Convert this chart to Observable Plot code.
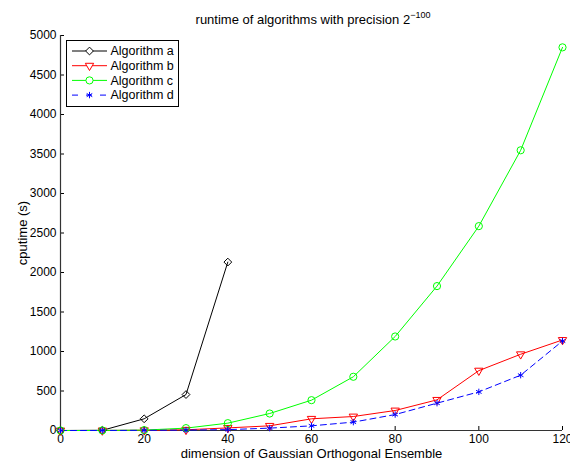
<!DOCTYPE html>
<html>
<head>
<meta charset="utf-8">
<script src="https://cdn.jsdelivr.net/npm/d3@7"></script>
<script src="https://cdn.jsdelivr.net/npm/@observablehq/plot@0.6"></script>
<style>
  body { margin: 0; background: #fff; font-family: "Liberation Sans", Arial, Helvetica, sans-serif; }
  #wrap { position: relative; width: 570px; height: 464px; overflow: hidden; }
  #title { position: absolute; top: 12px; left: 313px; transform: translateX(-50%); white-space: nowrap; font-size: 13px; color: #000; }
  #title sup { font-size: 9px; vertical-align: 6px; line-height: 0; }
  #legend { position: absolute; left: 0; top: 0; pointer-events: none; }
</style>
</head>
<body>
<div id="wrap">
  <div id="chart"></div>
  <div id="title"></div>
  <svg id="legend" width="570" height="464"></svg>
</div>
<script>
// ---- data ----
const titleText = "runtime of algorithms with precision 2";
const titleExp = "\u2212100";
const xLabel = "dimension of Gaussian Orthogonal Ensemble";
const yLabel = "cputime (s)";

const dimsA = [0, 10, 20, 30, 40];
const algA  = [0, 2, 148, 455, 2132];

const dims  = [0, 10, 20, 30, 40, 50, 60, 70, 80, 90, 100, 110, 120];
const algB  = [0, 0.5, 3, 9, 33, 59, 148, 177, 253, 388, 758, 965, 1146];
const algC  = [0, 1, 5, 30, 93, 215, 384, 680, 1190, 1828, 2587, 3547, 4850];
const algD  = [0, 0.3, 2, 5, 11, 30, 59, 106, 202, 346, 489, 700, 1133];

const seriesNames = ["Algorithm a", "Algorithm b", "Algorithm c", "Algorithm d"];
const xTicks = [0, 20, 40, 60, 80, 100, 120];
const yTicks = [0, 500, 1000, 1500, 2000, 2500, 3000, 3500, 4000, 4500, 5000];

// ---- tables ----
const rowsA = dimsA.map((x, i) => ({x, y: algA[i]}));
const rowsB = dims.map((x, i) => ({x, y: algB[i]}));
const rowsC = dims.map((x, i) => ({x, y: algC[i]}));
const rowsD = dims.map((x, i) => ({x, y: algD[i]}));

const styles = [
  {color: "#000000", symbol: "diamond2", r: 3.5, rotate: 0, dash: null},
  {color: "#ff0000", symbol: "triangle", r: 3.1, rotate: 180, dash: null},
  {color: "#00ff00", symbol: "circle", r: 3.6, rotate: 0, dash: null},
  {color: "#0000ff", symbol: "asterisk", r: 3.0, rotate: 0, dash: "6,4"}
];
const allRows = [rowsA, rowsB, rowsC, rowsD];

const font = '"Liberation Sans", Arial, Helvetica, sans-serif';
const fmt = d3.format("d");

const marks = [
  Plot.axisY(yTicks, {anchor: "left", tickSize: -4, tickPadding: 8, fontSize: 12, label: null, stroke: "#000", tickFormat: fmt}),
  Plot.axisX(xTicks, {anchor: "bottom", tickSize: -4, tickPadding: 8, fontSize: 12, label: null, stroke: "#000", tickFormat: fmt}),
  Plot.ruleX([0], {stroke: "#333", strokeWidth: 1.2}),
  Plot.ruleY([0], {stroke: "#333", strokeWidth: 1.2}),
  Plot.text([xLabel], {frameAnchor: "bottom", textAnchor: "middle", dy: 27, fontSize: 13, text: d => d, fill: "#000"}),
  Plot.text([yLabel], {frameAnchor: "left", textAnchor: "middle", dx: -38, rotate: -90, fontSize: 13, text: d => d, fill: "#000"})
];
allRows.forEach((rows, k) => {
  const s = styles[k];
  marks.push(Plot.line(rows, {x: "x", y: "y", stroke: s.color, strokeWidth: 1, strokeDasharray: s.dash}));
});
allRows.forEach((rows, k) => {
  const s = styles[k];
  marks.push(Plot.dot(rows, {x: "x", y: "y", symbol: () => s.symbol, r: s.r, rotate: s.rotate, fill: "none", stroke: s.color, strokeWidth: 1}));
});

const chart = Plot.plot({
  width: 570,
  height: 464,
  marginLeft: 60,
  marginRight: 8,
  marginTop: 35,
  marginBottom: 34,
  style: {fontFamily: font, fontSize: "12px", color: "#000", background: "#fff"},
  x: {domain: [0, 120], label: null},
  y: {domain: [0, 5000], label: null},
  symbol: {type: "identity"},
  marks
});
document.getElementById("chart").appendChild(chart);

// ---- title with superscript ----
const t = document.getElementById("title");
t.textContent = titleText;
const sup = document.createElement("sup");
sup.textContent = titleExp;
t.appendChild(sup);

// ---- legend box (MATLAB style) ----
const lg = d3.select("#legend");
const bx = 66.5, by = 40.5, bw = 112, bh = 66;
lg.append("rect").attr("x", bx).attr("y", by).attr("width", bw).attr("height", bh)
  .attr("fill", "#fff").attr("stroke", "#000").attr("stroke-width", 1);
const symMap = {diamond2: d3.symbolDiamond2, triangle: d3.symbolTriangle, circle: d3.symbolCircle, asterisk: d3.symbolAsterisk};
seriesNames.forEach((name, i) => {
  const s = styles[i];
  const cy = 51 + i * 14.7;
  lg.append("line").attr("x1", 72).attr("x2", 107).attr("y1", cy).attr("y2", cy)
    .attr("stroke", s.color).attr("stroke-width", 1)
    .attr("stroke-dasharray", s.dash ? "6,8" : null);
  lg.append("path")
    .attr("d", d3.symbol(symMap[s.symbol], Math.PI * s.r * s.r)())
    .attr("transform", `translate(89.5,${cy}) rotate(${s.rotate})`)
    .attr("fill", "#fff").attr("stroke", s.color).attr("stroke-width", 1);
  lg.append("text").attr("x", 110.5).attr("y", cy).attr("dy", "0.35em")
    .attr("font-family", font).attr("font-size", 12.5).attr("fill", "#000").text(name);
});
</script>
</body>
</html>
